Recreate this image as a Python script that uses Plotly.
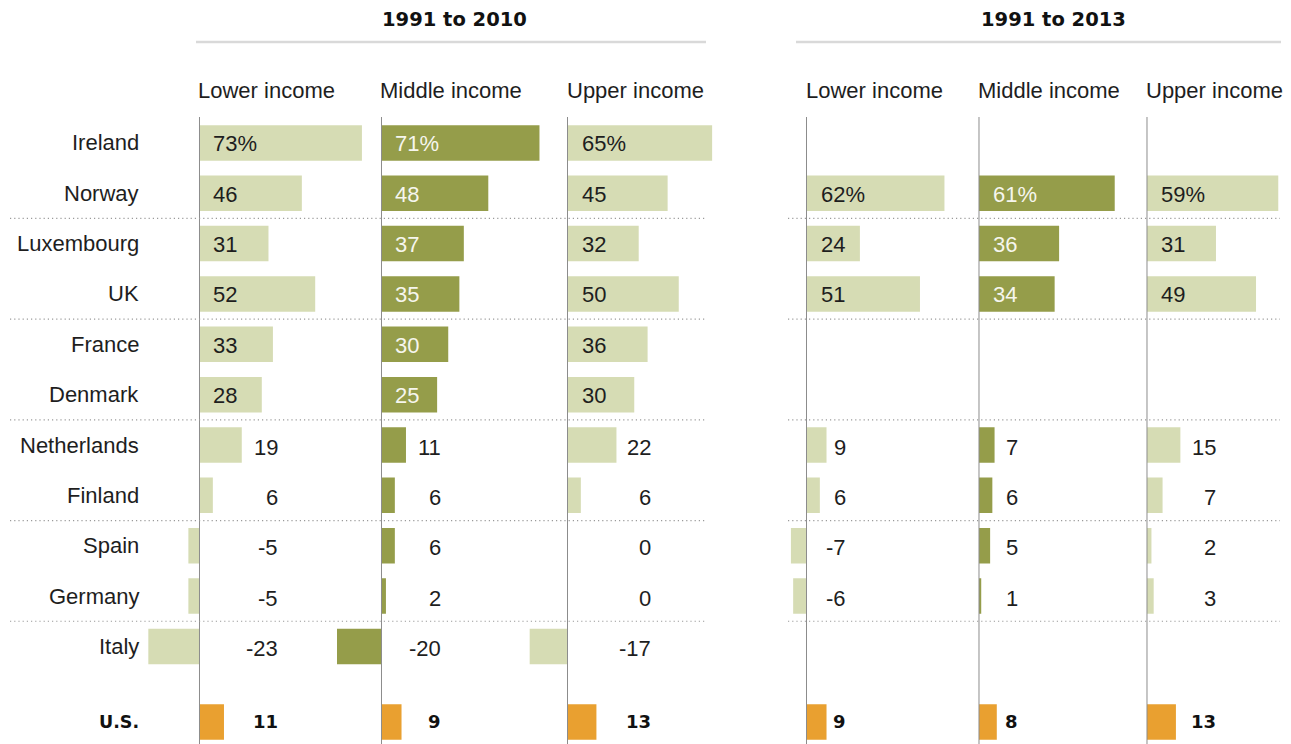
import plotly.graph_objects as go

# ---- data ----
countries = ["Ireland", "Norway", "Luxembourg", "UK", "France", "Denmark",
             "Netherlands", "Finland", "Spain", "Germany", "Italy", "U.S."]
lower_2010 = [73, 46, 31, 52, 33, 28, 19, 6, -5, -5, -23, 11]
middle_2010 = [71, 48, 37, 35, 30, 25, 11, 6, 6, 2, -20, 9]
upper_2010 = [65, 45, 32, 50, 36, 30, 22, 6, 0, 0, -17, 13]
lower_2013 = [None, 62, 24, 51, None, None, 9, 6, -7, -6, None, 9]
middle_2013 = [None, 61, 36, 34, None, None, 7, 6, 5, 1, None, 8]
upper_2013 = [None, 59, 31, 49, None, None, 15, 7, 2, 3, None, 13]
period_titles = ["1991 to 2010", "1991 to 2013"]
group_labels = ["Lower income", "Middle income", "Upper income"]

# ---- style / layout ----
W, H = 1291, 744
OFF = 8  # page body margin
PX_PER_UNIT = 2.225
ROW_TOP_PX, ROW_STEP_PX = 142.9 - OFF, 50.35
LIGHT, DARK, ORANGE = "#d6dcb4", "#959d4a", "#e9a030"
TXT = "#1e1e1e"
FONT = "Liberation Sans, Arial, sans-serif"
BOLD_FONT = "DejaVu Sans, Verdana, sans-serif"


def px_x(p):
    return (p - OFF) / W


def px_y(p):
    return 1 - (p - OFF) / H


row_pos = [i + (0.5 if c == "U.S." else 0) for i, c in enumerate(countries)]
separators = [1.5, 3.5, 5.5, 7.5, 9.5]

# (values, zero pixel, outside-label offset px, dark?, header)
panels = [
    (lower_2010, 199.5, 81, False, group_labels[0]),
    (middle_2010, 381.5, 62, True, group_labels[1]),
    (upper_2010, 567.5, 85, False, group_labels[2]),
    (lower_2013, 806.5, 41, False, group_labels[0]),
    (middle_2013, 979.0, 41, True, group_labels[1]),
    (upper_2013, 1147.0, 71, False, group_labels[2]),
]

fig = go.Figure()
annotations = []
shapes = []
layout_axes = {}

y_top = -ROW_TOP_PX / ROW_STEP_PX
y_bot = (H - ROW_TOP_PX) / ROW_STEP_PX

for k, (vals, zero, out_off, dark, header) in enumerate(panels):
    ax = "x" if k == 0 else f"x{k+1}"
    lo = -25
    hi = min(75, (W + OFF - 1 - zero) / PX_PER_UNIT)
    d0 = px_x(zero + lo * PX_PER_UNIT)
    d1 = px_x(zero + hi * PX_PER_UNIT)
    key = "xaxis" if k == 0 else f"xaxis{k+1}"
    layout_axes[key] = dict(domain=[d0, d1], range=[lo, hi], visible=False,
                            anchor="y", fixedrange=True)
    colors = [ORANGE if c == "U.S." else (DARK if dark else LIGHT) for c in countries]
    fig.add_trace(go.Bar(
        x=vals, y=row_pos, orientation="h", width=0.706,
        marker=dict(color=colors, line=dict(width=0)),
        xaxis=ax, yaxis="y", hoverinfo="skip", showlegend=False,
    ))
    # zero line
    shapes.append(dict(type="line", xref=ax, yref="paper", x0=0, x1=0,
                       y0=0, y1=px_y(117),
                       line=dict(color="#8c8c8c", width=1)))
    # header
    annotations.append(dict(xref=ax, yref="paper", x=0, y=px_y(90),
                            xanchor="left", yanchor="middle", xshift=-3,
                            text=header, showarrow=False,
                            font=dict(family=FONT, size=22, color=TXT)))
    # value labels
    first = True
    for c, v, yp in zip(countries, vals, row_pos):
        if v is None:
            continue
        label = f"{v}%" if first else f"{v}"
        first = False
        if c == "U.S.":
            annotations.append(dict(xref=ax, yref="y", x=0, y=yp, xanchor="right",
                                    yanchor="middle", xshift=out_off, text=label,
                                    showarrow=False,
                                    font=dict(family=BOLD_FONT, size=18, color="#111",
                                              weight="bold")))
        elif v >= 24:
            annotations.append(dict(xref=ax, yref="y", x=0, y=yp, xanchor="left",
                                    yanchor="middle", xshift=12, yshift=-1, text=label,
                                    showarrow=False,
                                    font=dict(family=FONT, size=22,
                                              color="#f6f6ee" if dark else TXT)))
        else:
            annotations.append(dict(xref=ax, yref="y", x=0, y=yp, xanchor="right",
                                    yanchor="middle", xshift=out_off, yshift=-2, text=label,
                                    showarrow=False,
                                    font=dict(family=FONT, size=22, color=TXT)))

# country labels
for c, yp in zip(countries, row_pos):
    if c == "U.S.":
        f = dict(family=BOLD_FONT, size=17.5, color="#111", weight="bold")
    else:
        f = dict(family=FONT, size=22, color=TXT)
    annotations.append(dict(xref="paper", yref="y", x=px_x(141), y=yp,
                            xanchor="right", yanchor="middle", text=c,
                            showarrow=False, font=f))

# period titles and rules
for title, cx, lx0, lx1, sx0, sx1 in [
    (period_titles[0], 454, 196, 706, 10, 706),
    (period_titles[1], 1053, 796, 1281, 788, 1280),
]:
    annotations.append(dict(xref="paper", yref="paper", x=px_x(cx), y=px_y(19.5),
                            xanchor="center", yanchor="middle", text=title,
                            showarrow=False,
                            font=dict(family=BOLD_FONT, size=19.5, color="#111",
                                      weight="bold")))
    shapes.append(dict(type="line", xref="paper", yref="paper",
                       x0=px_x(lx0), x1=px_x(lx1), y0=px_y(42), y1=px_y(42),
                       line=dict(color="#d9d9d9", width=2.5)))
    for s in separators:
        shapes.append(dict(type="line", xref="paper", yref="y",
                           x0=px_x(sx0), x1=px_x(sx1), y0=s, y1=s,
                           line=dict(color="#9a9a9a", width=1.2, dash="1.2px,3px")))

fig.update_layout(
    width=W, height=H,
    margin=dict(l=0, r=0, t=0, b=0),
    paper_bgcolor="white", plot_bgcolor="rgba(0,0,0,0)",
    barmode="overlay",
    yaxis=dict(domain=[0, 1], range=[y_bot, y_top], visible=False, fixedrange=True),
    annotations=annotations, shapes=shapes,
    **layout_axes,
)

fig.write_html("out.html")
